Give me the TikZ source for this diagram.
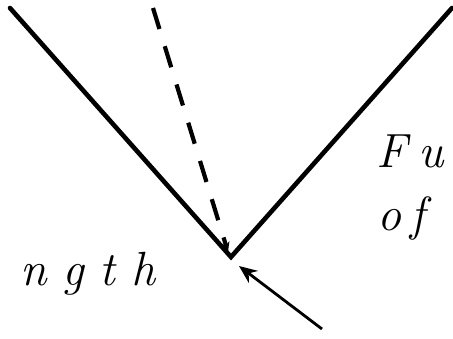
\documentclass[tikz,border=0pt]{standalone}
\usepackage{tikz}
\usetikzlibrary{positioning, arrows.meta, calc}
\tikzset{
  wallline/.style={
    line width=4.6pt,
    line cap=round,
    line join=miter
  },
  rayline/.style={
    line width=4.2pt,
    dash pattern=on 22pt off 18pt,
    -{Stealth[length=10pt,width=9pt]}
  },
  forcearrow/.style={
    line width=2.8pt,
    -{Stealth[length=18pt,width=15pt]}
  },
  letterlabel/.style={
    font=\fontsize{48}{54}\selectfont\itshape,
    inner sep=0pt,
    outer sep=0pt
  }
}
\begin{document}
\begin{tikzpicture}[x=1pt,y=1pt]
  \useasboundingbox (0,0) rectangle (453,338);
  % corner and free ends
  \coordinate (v) at (231,81);
  \coordinate (tl) at (10,330);
  \coordinate (tr) at (452,330);
  \coordinate (dt) at (153,330);
  \coordinate (dv) at (228,86);
  \coordinate (at) at (322,9);
  \coordinate (ah) at (239,72);
  \draw[wallline] (tl) -- (v) -- (tr);
  \draw[rayline] (dt) -- (dv);
  \draw[forcearrow] (at) -- (ah);
  % labels
  \node[letterlabel, anchor=base west] (fu) at (376,170) {F\hspace{12pt}u};
  \node[letterlabel, anchor=base west] (of) at (377,108) {o\hspace{10pt}f};
  \node[letterlabel, anchor=base west] (ngth) at (20,53) {n\hspace{16pt}g\hspace{16pt}t\hspace{16pt}h};
\end{tikzpicture}
\end{document}
